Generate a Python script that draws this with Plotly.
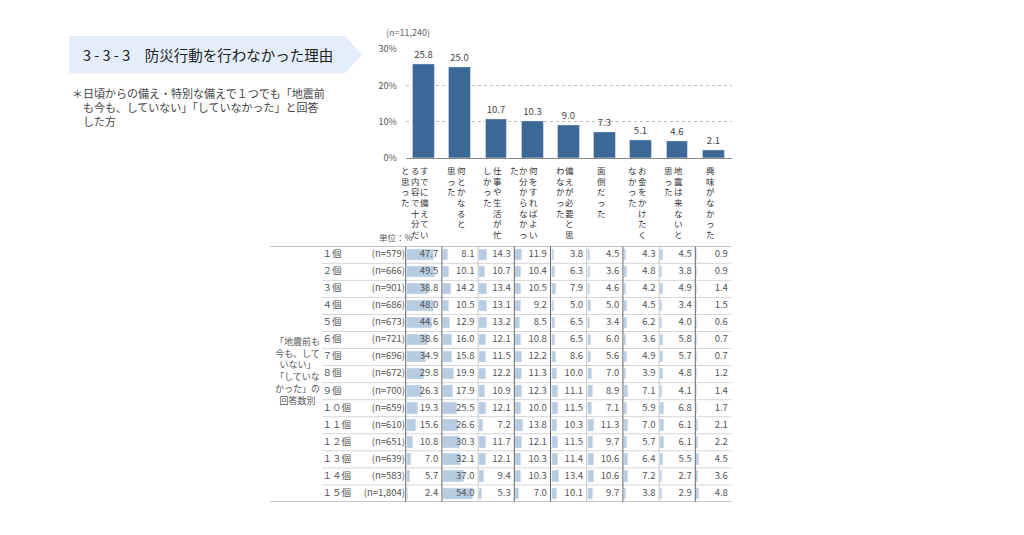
import plotly.graph_objects as go

# Top chart: overall reasons (n=11,240), "|" marks a new vertical text column
cat_label_cols = [
    "すでに備えてい|る内容で十分だ|と思った",
    "何とかなると|思った",
    "仕事や生活が忙|しかった",
    "何をすればよい|か分からなかっ|た",
    "備えが必要と思|わなかった",
    "面倒だった",
    "お金をかけたく|なかった",
    "地震は来ないと|思った",
    "興味がなかった",
]
categories = [s.replace("|", "") for s in cat_label_cols]
overall = [25.8, 25.0, 10.7, 10.3, 9.0, 7.3, 5.1, 4.6, 2.1]
y_ticks = [0, 10, 20, 30]
y_tick_text = ["0%", "10%", "20%", "30%"]

# Table: by number of "not done" answers
row_labels = ["１個", "２個", "３個", "４個", "５個", "６個", "７個", "８個", "９個",
              "１０個", "１１個", "１２個", "１３個", "１４個", "１５個"]
row_n = ["579", "666", "901", "686", "673", "721", "696", "672", "700",
         "659", "610", "651", "639", "583", "1,804"]
table_values = [
    [47.7, 8.1, 14.3, 11.9, 3.8, 4.5, 4.3, 4.5, 0.9],
    [49.5, 10.1, 10.7, 10.4, 6.3, 3.6, 4.8, 3.8, 0.9],
    [38.8, 14.2, 13.4, 10.5, 7.9, 4.6, 4.2, 4.9, 1.4],
    [48.0, 10.5, 13.1, 9.2, 5.0, 5.0, 4.5, 3.4, 1.5],
    [44.6, 12.9, 13.2, 8.5, 6.5, 3.4, 6.2, 4.0, 0.6],
    [38.6, 16.0, 12.1, 10.8, 6.5, 6.0, 3.6, 5.8, 0.7],
    [34.9, 15.8, 11.5, 12.2, 8.6, 5.6, 4.9, 5.7, 0.7],
    [29.8, 19.9, 12.2, 11.3, 10.0, 7.0, 3.9, 4.8, 1.2],
    [26.3, 17.9, 10.9, 12.3, 11.1, 8.9, 7.1, 4.1, 1.4],
    [19.3, 25.5, 12.1, 10.0, 11.5, 7.1, 5.9, 6.8, 1.7],
    [15.6, 26.6, 7.2, 13.8, 10.3, 11.3, 7.0, 6.1, 2.1],
    [10.8, 30.3, 11.7, 12.1, 11.5, 9.7, 5.7, 6.1, 2.2],
    [7.0, 32.1, 12.1, 10.3, 11.4, 10.6, 6.4, 5.5, 4.5],
    [5.7, 37.0, 9.4, 10.3, 13.4, 10.6, 7.2, 2.7, 3.6],
    [2.4, 54.0, 5.3, 7.0, 10.1, 9.7, 3.8, 2.9, 4.8],
]

W, H = 1024, 535
FONT = "Noto Sans CJK JP"
BAR = "#3c6897"
CELL_BAR = "#b8cce1"
TXT = "#444444"


def px(x):
    return x / W


def py(y):
    # screen y -> paper; the captured page comes out slightly squeezed vertically
    return 1 - ((y - 5.9) / 0.975) / H


fig = go.Figure()

# ---- top bar chart
fig.add_trace(go.Bar(
    x=categories, y=overall, marker_color=BAR, width=0.6,
    text=[f"{v:.1f}" for v in overall], textposition="outside",
    textfont=dict(size=9.5, color=TXT), cliponaxis=False,
    xaxis="x", yaxis="y", showlegend=False,
))

# ---- table: in-cell bars (one horizontal bar trace per column)
n_rows = len(row_labels)
n_cols = len(categories)
k = 0.0155  # column units per percent
for c in range(n_cols):
    vals = [row[c] for row in table_values]
    fig.add_trace(go.Bar(
        x=[v * k for v in vals], y=list(range(n_rows)), base=c + 0.03,
        orientation="h", width=0.66, marker_color=CELL_BAR,
        xaxis="x2", yaxis="y2", showlegend=False,
    ))

# table numbers
nx, ny, nt = [], [], []
for r, row in enumerate(table_values):
    for c, v in enumerate(row):
        nx.append(c + 0.9)
        ny.append(r)
        nt.append(f"{v:.1f}")
fig.add_trace(go.Scatter(
    x=nx, y=ny, text=nt, mode="text", textposition="middle left",
    textfont=dict(size=9.5, color="#555555"), xaxis="x2", yaxis="y2",
    showlegend=False, cliponaxis=False,
))

# row labels and n
fig.add_trace(go.Scatter(
    x=[-2.3] * n_rows, y=list(range(n_rows)), text=row_labels, mode="text",
    textposition="middle right", textfont=dict(size=9.5, color="#555555"),
    xaxis="x2", yaxis="y2", showlegend=False, cliponaxis=False,
))
fig.add_trace(go.Scatter(
    x=[-0.02] * n_rows, y=list(range(n_rows)), text=[f"(n={n})" for n in row_n],
    mode="text", textposition="middle left", textfont=dict(size=9.5, color="#555555"),
    xaxis="x2", yaxis="y2", showlegend=False, cliponaxis=False,
))

# table lines
shapes = []
x_left = -3.749
for r in range(n_rows - 1):
    shapes.append(dict(type="line", xref="x2", yref="y2", x0=-2.31, x1=n_cols,
                       y0=r + 0.5, y1=r + 0.5, line=dict(color="#d6d6d6", width=1)))
for yy in (-0.5, n_rows - 0.5):
    shapes.append(dict(type="line", xref="x2", yref="y2", x0=x_left, x1=n_cols,
                       y0=yy, y1=yy, line=dict(color="#9a9a9a", width=1)))
for c in range(n_cols):
    col = "#c8c8c8" if c in (2, 5, 7) else "#666666"
    shapes.append(dict(type="line", xref="x2", yref="y2", x0=c, x1=c,
                       y0=-0.5, y1=n_rows - 0.5, line=dict(color=col, width=1)))

# title arrow box
path = "M {a},{t} L {b},{t} L {c},{m} L {b},{bt} L {a},{bt} Z".format(
    a=px(69), b=px(345), c=px(362), t=py(35), m=py(53.5), bt=py(72))
shapes.append(dict(type="path", xref="paper", yref="paper", path=path,
                   fillcolor="#e4eefa", line=dict(width=0), layer="below"))


def note(text, x, y, size, color, xanchor="left", **kw):
    return dict(text=text, x=px(x), y=py(y), xref="paper", yref="paper",
                xanchor=xanchor, yanchor="middle", showarrow=False,
                font=dict(size=size, color=color), **kw)


annotations = [
    note("3 - 3 - 3　防災行動を行わなかった理由", 81, 53, 14.5, "#222222"),
    note("＊日頃からの備え・特別な備えで１つでも「地震前", 70, 92, 11, TXT),
    note("も今も、していない」「していなかった」と回答", 81, 106, 11, TXT),
    note("した方", 81, 119.5, 11, TXT),
    note("(n=11,240)", 408, 31, 9, "#666666", xanchor="center"),
    note("単位：%", 396, 236, 8.5, "#555555", xanchor="center"),
    note("「地震前も<br>今も、して<br>いない」<br>「していな<br>かった」の<br>回答数別",
         297, 370, 9, "#555555", xanchor="center", align="center"),
]

# vertical category labels, one character at a time, columns right-to-left
for i, lab in enumerate(cat_label_cols):
    cols = lab.split("|")
    n = len(cols)
    for j, colstr in enumerate(cols):
        shift = (-3 if n == 1 else 1) - 9.5 * j
        for r, ch in enumerate(colstr):
            annotations.append(dict(
                text=ch, x=categories[i], xref="x", y=py(169 + 10.6 * r), yref="paper",
                xshift=shift, xanchor="center", yanchor="middle", showarrow=False,
                font=dict(size=8.5, color="#333333"),
            ))

fig.update_layout(
    width=W, height=H, margin=dict(l=0, r=0, t=0, b=0),
    paper_bgcolor="white", plot_bgcolor="white",
    font=dict(family=FONT, color=TXT),
    barmode="overlay", bargap=0, hovermode=False,
    xaxis=dict(domain=[px(405.7), px(731.5)], range=[-0.5, 8.5], showticklabels=False,
               showgrid=False, showline=True, linecolor="#8a8a8a", linewidth=1,
               zeroline=False, fixedrange=True),
    yaxis=dict(domain=[py(157), py(48)], range=[0, 30], tickvals=y_ticks,
               ticktext=y_tick_text, showgrid=True, gridcolor="#bdbdbd", griddash="dot",
               gridwidth=1, zeroline=False, ticks="outside", ticklen=6,
               tickcolor="rgba(0,0,0,0)", tickfont=dict(size=9, color="#555555"),
               fixedrange=True),
    xaxis2=dict(domain=[px(270), px(731.5)], range=[x_left, n_cols], visible=False,
                anchor="y2", fixedrange=True),
    yaxis2=dict(domain=[py(500.5), py(245)], range=[n_rows - 0.5, -0.5], visible=False,
                anchor="x2", fixedrange=True),
    shapes=shapes,
    annotations=annotations,
)

# drop the page's default body margin so the figure sits at the window origin
fig.write_html("out.html", config={"displayModeBar": False},
               post_script="document.body.style.margin='0px';")
